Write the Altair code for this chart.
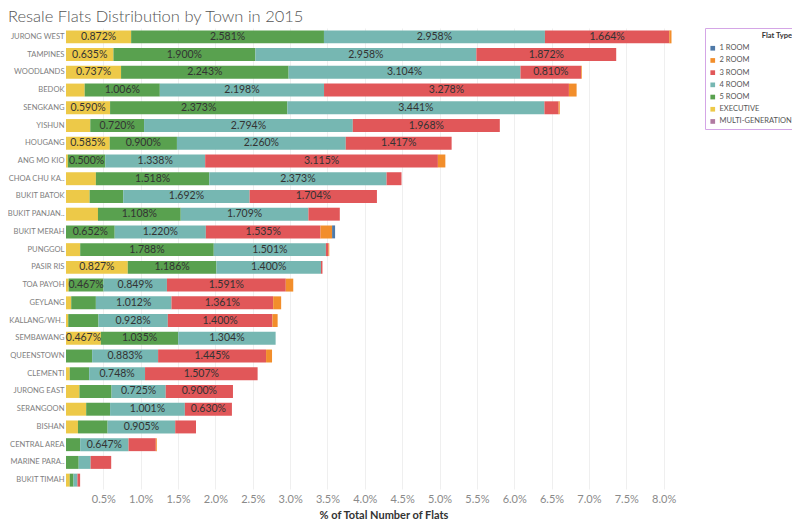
import altair as alt
import pandas as pd

towns = ["JURONG WEST", "TAMPINES", "WOODLANDS", "BEDOK", "SENGKANG", "YISHUN",
         "HOUGANG", "ANG MO KIO", "CHOA CHU KA..", "BUKIT BATOK", "BUKIT PANJAN..",
         "BUKIT MERAH", "PUNGGOL", "PASIR RIS", "TOA PAYOH", "GEYLANG", "KALLANG/WH..",
         "SEMBAWANG", "QUEENSTOWN", "CLEMENTI", "JURONG EAST", "SERANGOON", "BISHAN",
         "CENTRAL AREA", "MARINE PARA..", "BUKIT TIMAH"]

executive = [0.872, 0.635, 0.737, 0.250, 0.590, 0.325, 0.585, 0.025, 0.400, 0.316, 0.428,
             0.000, 0.190, 0.827, 0.035, 0.070, 0.030, 0.467, 0.000, 0.050, 0.180, 0.270,
             0.160, 0.000, 0.000, 0.050]
room5 = [2.581, 1.900, 2.243, 1.006, 2.373, 0.720, 0.900, 0.500, 1.518, 0.450, 1.108,
         0.652, 1.788, 1.186, 0.467, 0.330, 0.405, 1.035, 0.350, 0.260, 0.430, 0.320,
         0.397, 0.190, 0.170, 0.050]
room4 = [2.958, 2.958, 3.104, 2.198, 3.441, 2.794, 2.260, 1.338, 2.373, 1.692, 1.709,
         1.220, 1.501, 1.400, 0.849, 1.012, 0.928, 1.304, 0.883, 0.748, 0.725, 1.001,
         0.905, 0.647, 0.160, 0.053]
room3 = [1.664, 1.872, 0.810, 3.278, 0.190, 1.968, 1.417, 3.115, 0.200, 1.704, 0.420,
         1.535, 0.035, 0.020, 1.591, 1.361, 1.400, 0.000, 1.445, 1.507, 0.900, 0.630,
         0.278, 0.365, 0.275, 0.036]
room2 = [0.030, 0.000, 0.010, 0.103, 0.015, 0.000, 0.000, 0.100, 0.000, 0.000, 0.000,
         0.155, 0.010, 0.000, 0.100, 0.107, 0.070, 0.000, 0.080, 0.000, 0.000, 0.000,
         0.000, 0.013, 0.000, 0.000]
room1 = [0.000, 0.000, 0.000, 0.000, 0.000, 0.000, 0.000, 0.000, 0.000, 0.000, 0.000,
         0.040, 0.000, 0.000, 0.000, 0.000, 0.000, 0.000, 0.000, 0.000, 0.000, 0.000,
         0.000, 0.000, 0.000, 0.000]
multigen = [0.000, 0.000, 0.000, 0.000, 0.000, 0.000, 0.000, 0.000, 0.000, 0.000, 0.000,
            0.000, 0.000, 0.000, 0.000, 0.000, 0.000, 0.000, 0.000, 0.000, 0.000, 0.000,
            0.000, 0.000, 0.000, 0.000]

types = ["1 ROOM", "2 ROOM", "3 ROOM", "4 ROOM", "5 ROOM", "EXECUTIVE", "MULTI-GENERATION"]
colors = ["#4e79a7", "#f28e2b", "#e15759", "#76b7b2", "#59a14f", "#edc948", "#b07aa1"]
stack_order = ["EXECUTIVE", "5 ROOM", "4 ROOM", "3 ROOM", "2 ROOM", "1 ROOM", "MULTI-GENERATION"]
tick_values = [0.5, 1.0, 1.5, 2.0, 2.5, 3.0, 3.5, 4.0, 4.5, 5.0, 5.5, 6.0, 6.5, 7.0, 7.5, 8.0]

series = {"EXECUTIVE": executive, "5 ROOM": room5, "4 ROOM": room4, "3 ROOM": room3,
          "2 ROOM": room2, "1 ROOM": room1, "MULTI-GENERATION": multigen}

rows = []
for i, town in enumerate(towns):
    for typ in stack_order:
        rows.append({"town": town, "type": typ, "value": series[typ][i],
                     "ord": stack_order.index(typ)})
df = pd.DataFrame(rows)

base = alt.Chart(df).transform_window(
    cum="sum(value)", groupby=["town"], sort=[alt.SortField("ord")], frame=[None, 0]
).transform_calculate(
    start="datum.cum - datum.value",
    mid="datum.cum - datum.value / 2",
    lbl="format(datum.value, '.3f') + '%'"
)

x_scale = alt.Scale(domain=[0, 8.5], nice=False, zero=True)
y_scale = alt.Scale(paddingInner=0.27, paddingOuter=0.135)

bars = base.transform_filter("datum.value > 0").mark_bar().encode(
    x=alt.X("start:Q", scale=x_scale,
            axis=alt.Axis(values=tick_values, labelExpr="format(datum.value, '.1f') + '%'",
                          title="% of Total Number of Flats", grid=True, gridColor="#efefef",
                          domain=False, ticks=False, labelFont="Lato", labelFontSize=11,
                          labelColor="#8a8a8a", labelPadding=4, titleFont="Lato",
                          titleFontSize=11, titleFontWeight="bold", titleColor="#333333",
                          titlePadding=5)),
    x2="cum:Q",
    y=alt.Y("town:N", sort=towns, scale=y_scale,
            axis=alt.Axis(title=None, domain=False, ticks=False, labelFont="Lato",
                          labelFontSize=7.6, labelColor="#808080", labelPadding=2)),
    color=alt.Color("type:N", scale=alt.Scale(domain=types, range=colors),
                    legend=alt.Legend(title="Flat Type", orient="none", legendX=639, legendY=0,
                                      strokeColor="#d4a6e6", fillColor="white", padding=4,
                                      titleFont="Lato", titleFontSize=7.5, titleFontWeight="bold",
                                      titleColor="#333333", titleAnchor="end", titlePadding=5,
                                      labelFont="Lato", labelFontSize=7.5, labelColor="#555555",
                                      symbolType="square", symbolSize=22, symbolStrokeWidth=0,
                                      rowPadding=3.2, labelOffset=3)),
)

text = base.transform_filter("datum.value >= 0.46").mark_text(
    font="Lato", fontSize=10.5, color="#333333"
).encode(
    x=alt.X("mid:Q", scale=x_scale),
    y=alt.Y("town:N", sort=towns, scale=y_scale),
    text="lbl:N",
)

chart = alt.layer(bars, text).properties(
    width=635, height=461,
    title=alt.TitleParams("Resale Flats Distribution by Town in 2015", anchor="start",
                          frame="group", dx=-58, offset=2, font="Lato", fontSize=16.5,
                          fontWeight=300, color="#555555"),
    autosize=alt.AutoSizeParams(type="none"),
    padding={"left": 58, "top": 20, "right": 91, "bottom": 35},
).configure_view(stroke=None)

chart.save("out.html", embed_options={"renderer": "svg", "actions": False})
